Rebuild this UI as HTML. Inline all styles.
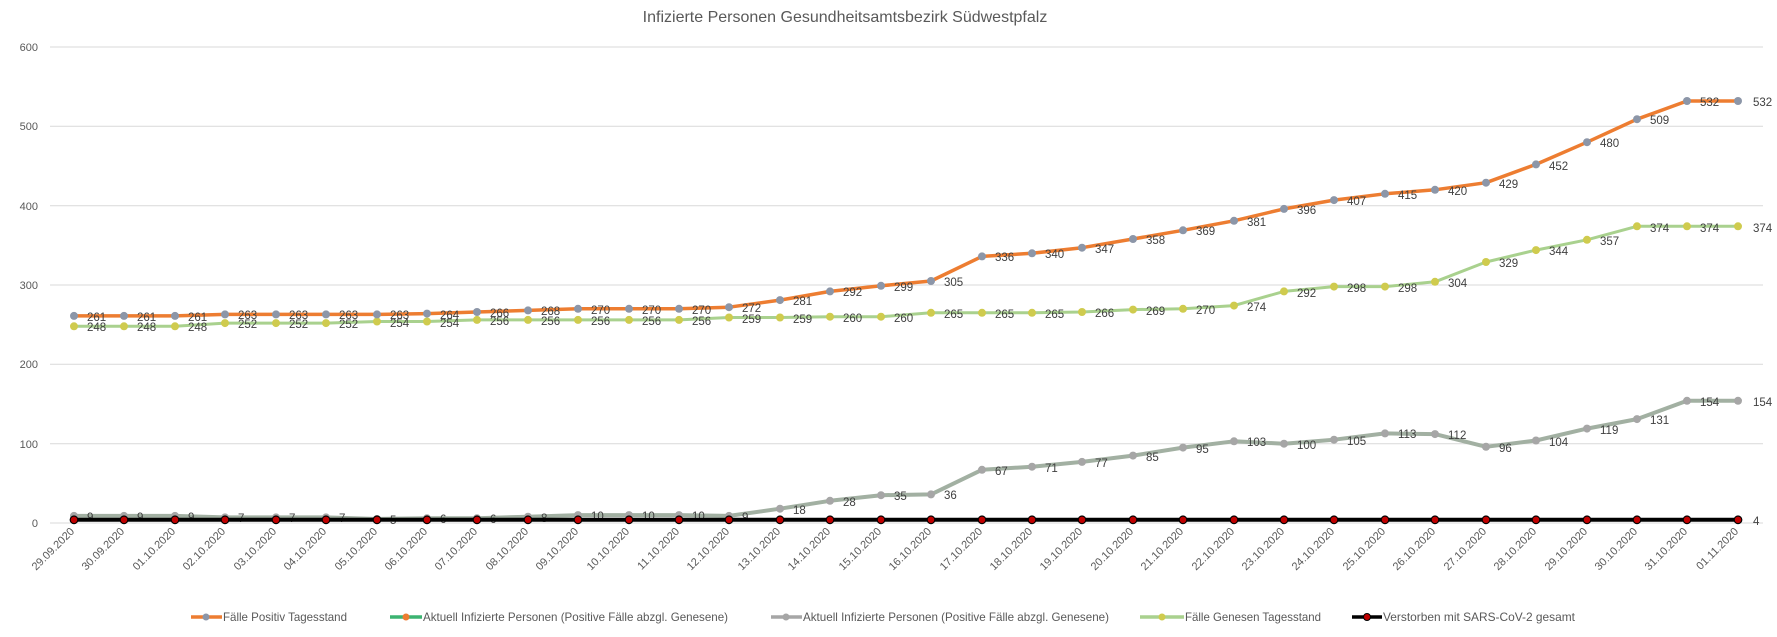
<!DOCTYPE html>
<html><head><meta charset="utf-8"><style>
html,body{margin:0;padding:0;background:#fff}
svg{display:block;font-family:"Liberation Sans",sans-serif}
.yl{font-size:11px;fill:#595959;text-anchor:end}
.xl{font-size:11px;fill:#595959;text-anchor:end}
.dl{font-size:11.5px;fill:#404040}
.lg{font-size:12px;fill:#595959}
</style></head><body>
<svg width="1777" height="637" viewBox="0 0 1777 637" xmlns="http://www.w3.org/2000/svg">
<text x="845" y="22" text-anchor="middle" style="font-size:16px;fill:#595959">Infizierte Personen Gesundheitsamtsbezirk Südwestpfalz</text>
<g stroke="#D9D9D9" stroke-width="1">
<line x1="50" x2="1763" y1="47" y2="47"/><line x1="50" x2="1763" y1="126.3" y2="126.3"/><line x1="50" x2="1763" y1="205.7" y2="205.7"/><line x1="50" x2="1763" y1="285" y2="285"/><line x1="50" x2="1763" y1="364.3" y2="364.3"/><line x1="50" x2="1763" y1="443.7" y2="443.7"/><line x1="50" x2="1763" y1="523" y2="523"/>
</g>
<g class="yl"><text x="38" y="51">600</text><text x="38" y="130">500</text><text x="38" y="210">400</text><text x="38" y="289">300</text><text x="38" y="368">200</text><text x="38" y="448">100</text><text x="38" y="527">0</text></g>

<polyline fill="none" stroke="#A2B0A2" stroke-width="4" stroke-linejoin="round" points="74,515.9 124,515.9 175,515.9 225,517.4 276,517.4 326,517.4 377,519.0 427,518.2 477,518.2 528,516.7 578,515.1 629,515.1 679,515.1 729,515.9 780,508.7 830,500.8 881,495.2 931,494.4 982,469.8 1032,466.7 1082,461.9 1133,455.6 1183,447.6 1234,441.3 1284,443.7 1334,439.7 1385,433.4 1435,434.1 1486,446.8 1536,440.5 1587,428.6 1637,419.1 1687,400.8 1738,400.8"/>
<g fill="#A6A6A6">
<circle cx="74" cy="515.9" r="4"/><circle cx="124" cy="515.9" r="4"/><circle cx="175" cy="515.9" r="4"/><circle cx="225" cy="517.4" r="4"/><circle cx="276" cy="517.4" r="4"/><circle cx="326" cy="517.4" r="4"/><circle cx="377" cy="519" r="4"/><circle cx="427" cy="518.2" r="4"/><circle cx="477" cy="518.2" r="4"/><circle cx="528" cy="516.7" r="4"/><circle cx="578" cy="515.1" r="4"/><circle cx="629" cy="515.1" r="4"/><circle cx="679" cy="515.1" r="4"/><circle cx="729" cy="515.9" r="4"/><circle cx="780" cy="508.7" r="4"/><circle cx="830" cy="500.8" r="4"/><circle cx="881" cy="495.2" r="4"/><circle cx="931" cy="494.4" r="4"/><circle cx="982" cy="469.8" r="4"/><circle cx="1032" cy="466.7" r="4"/><circle cx="1082" cy="461.9" r="4"/><circle cx="1133" cy="455.6" r="4"/><circle cx="1183" cy="447.6" r="4"/><circle cx="1234" cy="441.3" r="4"/><circle cx="1284" cy="443.7" r="4"/><circle cx="1334" cy="439.7" r="4"/><circle cx="1385" cy="433.4" r="4"/><circle cx="1435" cy="434.1" r="4"/><circle cx="1486" cy="446.8" r="4"/><circle cx="1536" cy="440.5" r="4"/><circle cx="1587" cy="428.6" r="4"/><circle cx="1637" cy="419.1" r="4"/><circle cx="1687" cy="400.8" r="4"/><circle cx="1738" cy="400.8" r="4"/>
</g>
<g class="dl">
<text x="87" y="521">9</text><text x="137" y="521">9</text><text x="188" y="521">9</text><text x="238" y="522">7</text><text x="289" y="522">7</text><text x="339" y="522">7</text><text x="390" y="524">5</text><text x="440" y="523">6</text><text x="490" y="523">6</text><text x="541" y="522">8</text><text x="591" y="520">10</text><text x="642" y="520">10</text><text x="692" y="520">10</text><text x="742" y="521">9</text><text x="793" y="514">18</text><text x="843" y="506">28</text><text x="894" y="500">35</text><text x="944" y="499">36</text><text x="995" y="475">67</text><text x="1045" y="472">71</text><text x="1095" y="467">77</text><text x="1146" y="461">85</text><text x="1196" y="453">95</text><text x="1247" y="446">103</text><text x="1297" y="449">100</text><text x="1347" y="445">105</text><text x="1398" y="438">113</text><text x="1448" y="439">112</text><text x="1499" y="452">96</text><text x="1549" y="446">104</text><text x="1600" y="434">119</text><text x="1650" y="424">131</text><text x="1700" y="406">154</text><text x="1753" y="406">154</text>
</g>

<polyline fill="none" stroke="#A9D18E" stroke-width="3" stroke-linejoin="round" points="74,326.3 124,326.3 175,326.3 225,323.1 276,323.1 326,323.1 377,321.5 427,321.5 477,319.9 528,319.9 578,319.9 629,319.9 679,319.9 729,317.5 780,317.5 830,316.7 881,316.7 931,312.8 982,312.8 1032,312.8 1082,312.0 1133,309.6 1183,308.8 1234,305.6 1284,291.4 1334,286.6 1385,286.6 1435,281.8 1486,262.0 1536,250.1 1587,239.8 1637,226.3 1687,226.3 1738,226.3"/>
<g fill="#CFCB4E">
<circle cx="74" cy="326.3" r="4"/><circle cx="124" cy="326.3" r="4"/><circle cx="175" cy="326.3" r="4"/><circle cx="225" cy="323.1" r="4"/><circle cx="276" cy="323.1" r="4"/><circle cx="326" cy="323.1" r="4"/><circle cx="377" cy="321.5" r="4"/><circle cx="427" cy="321.5" r="4"/><circle cx="477" cy="319.9" r="4"/><circle cx="528" cy="319.9" r="4"/><circle cx="578" cy="319.9" r="4"/><circle cx="629" cy="319.9" r="4"/><circle cx="679" cy="319.9" r="4"/><circle cx="729" cy="317.5" r="4"/><circle cx="780" cy="317.5" r="4"/><circle cx="830" cy="316.7" r="4"/><circle cx="881" cy="316.7" r="4"/><circle cx="931" cy="312.8" r="4"/><circle cx="982" cy="312.8" r="4"/><circle cx="1032" cy="312.8" r="4"/><circle cx="1082" cy="312" r="4"/><circle cx="1133" cy="309.6" r="4"/><circle cx="1183" cy="308.8" r="4"/><circle cx="1234" cy="305.6" r="4"/><circle cx="1284" cy="291.4" r="4"/><circle cx="1334" cy="286.6" r="4"/><circle cx="1385" cy="286.6" r="4"/><circle cx="1435" cy="281.8" r="4"/><circle cx="1486" cy="262" r="4"/><circle cx="1536" cy="250.1" r="4"/><circle cx="1587" cy="239.8" r="4"/><circle cx="1637" cy="226.3" r="4"/><circle cx="1687" cy="226.3" r="4"/><circle cx="1738" cy="226.3" r="4"/>
</g>
<g class="dl">
<text x="87" y="331">248</text><text x="137" y="331">248</text><text x="188" y="331">248</text><text x="238" y="328">252</text><text x="289" y="328">252</text><text x="339" y="328">252</text><text x="390" y="327">254</text><text x="440" y="327">254</text><text x="490" y="325">256</text><text x="541" y="325">256</text><text x="591" y="325">256</text><text x="642" y="325">256</text><text x="692" y="325">256</text><text x="742" y="323">259</text><text x="793" y="323">259</text><text x="843" y="322">260</text><text x="894" y="322">260</text><text x="944" y="318">265</text><text x="995" y="318">265</text><text x="1045" y="318">265</text><text x="1095" y="317">266</text><text x="1146" y="315">269</text><text x="1196" y="314">270</text><text x="1247" y="311">274</text><text x="1297" y="297">292</text><text x="1347" y="292">298</text><text x="1398" y="292">298</text><text x="1448" y="287">304</text><text x="1499" y="267">329</text><text x="1549" y="255">344</text><text x="1600" y="245">357</text><text x="1650" y="232">374</text><text x="1700" y="232">374</text><text x="1753" y="232">374</text>
</g>

<polyline fill="none" stroke="#ED7D31" stroke-width="3.5" stroke-linejoin="round" points="74,315.9 124,315.9 175,315.9 225,314.4 276,314.4 326,314.4 377,314.4 427,313.6 477,312.0 528,310.4 578,308.8 629,308.8 679,308.8 729,307.2 780,300.1 830,291.4 881,285.8 931,281.0 982,256.4 1032,253.3 1082,247.7 1133,239.0 1183,230.3 1234,220.8 1284,208.9 1334,200.1 1385,193.8 1435,189.8 1486,182.7 1536,164.4 1587,142.2 1637,119.2 1687,101.0 1738,101.0"/>
<g fill="#8C96A8">
<circle cx="74" cy="315.9" r="4"/><circle cx="124" cy="315.9" r="4"/><circle cx="175" cy="315.9" r="4"/><circle cx="225" cy="314.4" r="4"/><circle cx="276" cy="314.4" r="4"/><circle cx="326" cy="314.4" r="4"/><circle cx="377" cy="314.4" r="4"/><circle cx="427" cy="313.6" r="4"/><circle cx="477" cy="312" r="4"/><circle cx="528" cy="310.4" r="4"/><circle cx="578" cy="308.8" r="4"/><circle cx="629" cy="308.8" r="4"/><circle cx="679" cy="308.8" r="4"/><circle cx="729" cy="307.2" r="4"/><circle cx="780" cy="300.1" r="4"/><circle cx="830" cy="291.4" r="4"/><circle cx="881" cy="285.8" r="4"/><circle cx="931" cy="281" r="4"/><circle cx="982" cy="256.4" r="4"/><circle cx="1032" cy="253.3" r="4"/><circle cx="1082" cy="247.7" r="4"/><circle cx="1133" cy="239" r="4"/><circle cx="1183" cy="230.3" r="4"/><circle cx="1234" cy="220.8" r="4"/><circle cx="1284" cy="208.9" r="4"/><circle cx="1334" cy="200.1" r="4"/><circle cx="1385" cy="193.8" r="4"/><circle cx="1435" cy="189.8" r="4"/><circle cx="1486" cy="182.7" r="4"/><circle cx="1536" cy="164.4" r="4"/><circle cx="1587" cy="142.2" r="4"/><circle cx="1637" cy="119.2" r="4"/><circle cx="1687" cy="101" r="4"/><circle cx="1738" cy="101" r="4"/>
</g>
<g class="dl">
<text x="87" y="321">261</text><text x="137" y="321">261</text><text x="188" y="321">261</text><text x="238" y="319">263</text><text x="289" y="319">263</text><text x="339" y="319">263</text><text x="390" y="319">263</text><text x="440" y="319">264</text><text x="490" y="317">266</text><text x="541" y="315">268</text><text x="591" y="314">270</text><text x="642" y="314">270</text><text x="692" y="314">270</text><text x="742" y="312">272</text><text x="793" y="305">281</text><text x="843" y="296">292</text><text x="894" y="291">299</text><text x="944" y="286">305</text><text x="995" y="261">336</text><text x="1045" y="258">340</text><text x="1095" y="253">347</text><text x="1146" y="244">358</text><text x="1196" y="235">369</text><text x="1247" y="226">381</text><text x="1297" y="214">396</text><text x="1347" y="205">407</text><text x="1398" y="199">415</text><text x="1448" y="195">420</text><text x="1499" y="188">429</text><text x="1549" y="170">452</text><text x="1600" y="147">480</text><text x="1650" y="124">509</text><text x="1700" y="106">532</text><text x="1753" y="106">532</text>
</g>

<line x1="74" x2="1738" y1="519.8" y2="519.8" stroke="#000" stroke-width="4"/>
<g fill="#C00000" stroke="#000" stroke-width="1.2">
<circle cx="74" cy="519.8" r="3.8"/><circle cx="124" cy="519.8" r="3.8"/><circle cx="175" cy="519.8" r="3.8"/><circle cx="225" cy="519.8" r="3.8"/><circle cx="276" cy="519.8" r="3.8"/><circle cx="326" cy="519.8" r="3.8"/><circle cx="377" cy="519.8" r="3.8"/><circle cx="427" cy="519.8" r="3.8"/><circle cx="477" cy="519.8" r="3.8"/><circle cx="528" cy="519.8" r="3.8"/><circle cx="578" cy="519.8" r="3.8"/><circle cx="629" cy="519.8" r="3.8"/><circle cx="679" cy="519.8" r="3.8"/><circle cx="729" cy="519.8" r="3.8"/><circle cx="780" cy="519.8" r="3.8"/><circle cx="830" cy="519.8" r="3.8"/><circle cx="881" cy="519.8" r="3.8"/><circle cx="931" cy="519.8" r="3.8"/><circle cx="982" cy="519.8" r="3.8"/><circle cx="1032" cy="519.8" r="3.8"/><circle cx="1082" cy="519.8" r="3.8"/><circle cx="1133" cy="519.8" r="3.8"/><circle cx="1183" cy="519.8" r="3.8"/><circle cx="1234" cy="519.8" r="3.8"/><circle cx="1284" cy="519.8" r="3.8"/><circle cx="1334" cy="519.8" r="3.8"/><circle cx="1385" cy="519.8" r="3.8"/><circle cx="1435" cy="519.8" r="3.8"/><circle cx="1486" cy="519.8" r="3.8"/><circle cx="1536" cy="519.8" r="3.8"/><circle cx="1587" cy="519.8" r="3.8"/><circle cx="1637" cy="519.8" r="3.8"/><circle cx="1687" cy="519.8" r="3.8"/><circle cx="1738" cy="519.8" r="3.8"/>
</g>
<text x="1753" y="525" class="dl">4</text>

<g class="xl">
<text transform="translate(75,532) rotate(-45)">29.09.2020</text>
<text transform="translate(125,532) rotate(-45)">30.09.2020</text>
<text transform="translate(176,532) rotate(-45)">01.10.2020</text>
<text transform="translate(226,532) rotate(-45)">02.10.2020</text>
<text transform="translate(277,532) rotate(-45)">03.10.2020</text>
<text transform="translate(327,532) rotate(-45)">04.10.2020</text>
<text transform="translate(378,532) rotate(-45)">05.10.2020</text>
<text transform="translate(428,532) rotate(-45)">06.10.2020</text>
<text transform="translate(478,532) rotate(-45)">07.10.2020</text>
<text transform="translate(529,532) rotate(-45)">08.10.2020</text>
<text transform="translate(579,532) rotate(-45)">09.10.2020</text>
<text transform="translate(630,532) rotate(-45)">10.10.2020</text>
<text transform="translate(680,532) rotate(-45)">11.10.2020</text>
<text transform="translate(730,532) rotate(-45)">12.10.2020</text>
<text transform="translate(781,532) rotate(-45)">13.10.2020</text>
<text transform="translate(831,532) rotate(-45)">14.10.2020</text>
<text transform="translate(882,532) rotate(-45)">15.10.2020</text>
<text transform="translate(932,532) rotate(-45)">16.10.2020</text>
<text transform="translate(983,532) rotate(-45)">17.10.2020</text>
<text transform="translate(1033,532) rotate(-45)">18.10.2020</text>
<text transform="translate(1083,532) rotate(-45)">19.10.2020</text>
<text transform="translate(1134,532) rotate(-45)">20.10.2020</text>
<text transform="translate(1184,532) rotate(-45)">21.10.2020</text>
<text transform="translate(1235,532) rotate(-45)">22.10.2020</text>
<text transform="translate(1285,532) rotate(-45)">23.10.2020</text>
<text transform="translate(1335,532) rotate(-45)">24.10.2020</text>
<text transform="translate(1386,532) rotate(-45)">25.10.2020</text>
<text transform="translate(1436,532) rotate(-45)">26.10.2020</text>
<text transform="translate(1487,532) rotate(-45)">27.10.2020</text>
<text transform="translate(1537,532) rotate(-45)">28.10.2020</text>
<text transform="translate(1588,532) rotate(-45)">29.10.2020</text>
<text transform="translate(1638,532) rotate(-45)">30.10.2020</text>
<text transform="translate(1688,532) rotate(-45)">31.10.2020</text>
<text transform="translate(1739,532) rotate(-45)">01.11.2020</text>
</g>

<g>
<line x1="191" x2="222" y1="617" y2="617" stroke="#ED7D31" stroke-width="3.5"/><circle cx="206" cy="617" r="3.5" fill="#8C96A8"/>
<text x="223" y="621" class="lg" textLength="124" lengthAdjust="spacingAndGlyphs">Fälle Positiv Tagesstand</text>
<line x1="390" x2="422" y1="617" y2="617" stroke="#3CB371" stroke-width="3.5"/><circle cx="406" cy="617" r="3.5" fill="#ED7D31"/>
<text x="423" y="621" class="lg" textLength="305" lengthAdjust="spacingAndGlyphs">Aktuell Infizierte Personen (Positive Fälle abzgl. Genesene)</text>
<line x1="771" x2="802" y1="617" y2="617" stroke="#A6A6A6" stroke-width="3.5"/><circle cx="786" cy="617" r="3.5" fill="#A6A6A6"/>
<text x="803" y="621" class="lg" textLength="306" lengthAdjust="spacingAndGlyphs">Aktuell Infizierte Personen (Positive Fälle abzgl. Genesene)</text>
<line x1="1140" x2="1184" y1="617" y2="617" stroke="#A9D18E" stroke-width="3.5"/><circle cx="1162" cy="617" r="3.5" fill="#CFCB4E"/>
<text x="1185" y="621" class="lg" textLength="136" lengthAdjust="spacingAndGlyphs">Fälle Genesen Tagesstand</text>
<line x1="1352" x2="1382" y1="617" y2="617" stroke="#000" stroke-width="3.5"/><circle cx="1367" cy="617" r="3.5" fill="#C00000" stroke="#000"/>
<text x="1383" y="621" class="lg" textLength="192" lengthAdjust="spacingAndGlyphs">Verstorben mit SARS-CoV-2 gesamt</text>
</g>
</svg>
</body></html>
